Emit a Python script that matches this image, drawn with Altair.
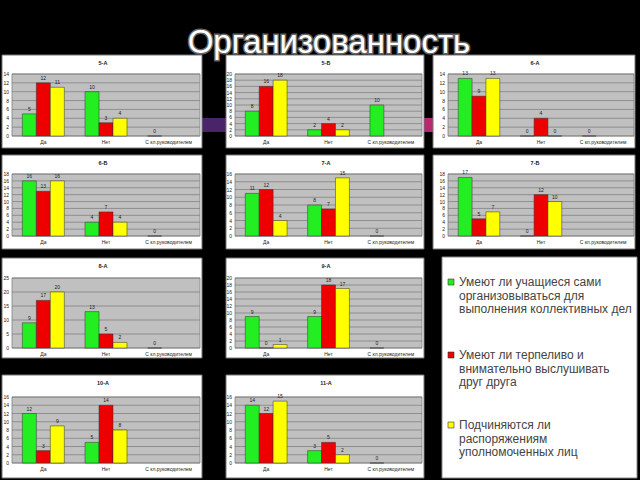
import altair as alt
import pandas as pd

# ---------------- data ----------------
classes = ["5-А", "5-Б", "6-А", "6-Б", "7-А", "7-Б", "8-А", "9-А", "10-А", "11-А"]
categories = ["Да", "Нет", "С кл.руководителем"]
series_keys = ["g", "r", "y"]
series_labels = [
    "Умеют ли учащиеся сами\nорганизовываться для\nвыполнения коллективных дел",
    "Умеют ли терпеливо и\nвнимательно выслушивать\nдруг друга",
    "Подчиняются ли\nраспоряжениям\nуполномоченных лиц",
]
# green has a value for the third category too (None = no bar / no label)
green_values = [[5, 10, 0], [8, 2, 10], [13, 0, 0], [16, 4, 0], [11, 8, 0],
                [17, 0, None], [9, 13, 0], [9, 9, 0], [12, 5, None], [14, 3, 0]]
red_values = [[12, 3], [16, 4], [9, 4], [13, 7], [12, 7],
              [5, 12], [17, 5], [0, 18], [3, 14], [12, 5]]
yellow_values = [[11, 4], [18, 2], [13, 0], [16, 4], [4, 15],
                 [7, 10], [20, 2], [1, 17], [9, 8], [15, 2]]
axis_max = [14, 20, 14, 18, 16, 18, 25, 20, 16, 16]
axis_step = [2, 2, 2, 2, 2, 2, 5, 2, 2, 2]

colors = ["#22ee22", "#ee0000", "#ffff00"]
title_text = "Организованность"

# ---------------- layout (pixels) ----------------
COLS = [(2, 202, 12, 200), (226, 424, 235, 422), (433, 635, 448, 634)]
ROWS = [(55, 148, 74, 136), (155, 249, 174, 236), (258, 358, 278, 348), (375, 478, 397, 463)]
SLOTS = [(0, 0), (0, 1), (0, 2), (1, 0), (1, 1), (1, 2), (2, 0), (2, 1), (3, 0), (3, 1)]
FONT = "Liberation Sans"
one = pd.DataFrame({"a": [0]})


def deco_rect(x0, x1, y0, y1, fill, stroke=None, sw=0):
    kw = dict(fill=fill)
    if stroke:
        kw.update(stroke=stroke, strokeWidth=sw)
    return alt.Chart(one).mark_rect(**kw).encode(
        x=alt.value(x0), x2=alt.value(x1), y=alt.value(y0), y2=alt.value(y1))


def panel(i):
    r, c = SLOTS[i]
    wx0, wx1, gx0, gx1 = COLS[c]
    wy0, wy1, gy0, gy1 = ROWS[r]
    recs = []
    for s, vals in enumerate([green_values[i], red_values[i], yellow_values[i]]):
        for k, v in enumerate(vals):
            if v is not None:
                recs.append({"cat": categories[k], "ser": series_keys[s], "v": v})
    df = pd.DataFrame(recs)
    ticks = pd.DataFrame({"t": list(range(0, axis_max[i] + 1, axis_step[i]))})
    cats = pd.DataFrame({"cat": categories})

    xs = alt.Scale(domain=categories, range=[gx0, gx1], paddingInner=0.33, paddingOuter=0.165)
    ys = alt.Scale(domain=[0, axis_max[i]], range=[gy1, gy0], nice=False, zero=True)
    offs = alt.Scale(domain=series_keys)
    cs = alt.Scale(domain=series_keys, range=colors)

    white = deco_rect(wx0, wx1, wy0, wy1, "white", "#777", 1)
    gray = deco_rect(gx0, gx1, gy0, gy1, "#c0c0c0", "#808080", 0.8)
    grid = alt.Chart(ticks).mark_rule(color="#7a7a7a", strokeWidth=0.7).encode(
        y=alt.Y("t:Q", scale=ys, axis=None),
        x=alt.value(gx0), x2=alt.value(gx1))
    ticklab = alt.Chart(ticks).mark_text(align="right", baseline="middle", fontSize=5,
                                         font=FONT, color="#222").encode(
        y=alt.Y("t:Q", scale=ys, axis=None), x=alt.value(gx0 - 3), text="t:Q")
    bars = alt.Chart(df).mark_bar(stroke="#333", strokeWidth=0.5).encode(
        x=alt.X("cat:N", scale=xs, axis=None),
        xOffset=alt.XOffset("ser:N", scale=offs),
        y=alt.Y("v:Q", scale=ys, axis=None),
        color=alt.Color("ser:N", scale=cs, legend=None))
    vlab = alt.Chart(df).mark_text(baseline="bottom", dy=-2, fontSize=5, font=FONT,
                                   color="#222").encode(
        x=alt.X("cat:N", scale=xs, axis=None),
        xOffset=alt.XOffset("ser:N", scale=offs),
        y=alt.Y("v:Q", scale=ys, axis=None),
        text="v:Q")
    catlab = alt.Chart(cats).mark_text(baseline="middle", fontSize=5, font=FONT,
                                       color="#222").encode(
        x=alt.X("cat:N", scale=xs, axis=None), y=alt.value(gy1 + 6), text="cat:N")
    ttl = alt.Chart(pd.DataFrame({"n": [classes[i]]})).mark_text(
        fontSize=5.5, fontWeight="bold", font=FONT, color="#222", baseline="middle").encode(
        x=alt.value((wx0 + wx1) / 2 + 1), y=alt.value(wy0 + 8), text="n:N")
    return alt.layer(white, gray, grid, ticklab, bars, vlab, catlab, ttl)


layers = []
# decorative coloured band of the slide background
layers.append(deco_rect(195, 228, 118, 132, "#4a2468"))
layers.append(deco_rect(422, 436, 118, 132, "#b52a70"))
for i in range(len(classes)):
    layers.append(panel(i))

# legend box
layers.append(deco_rect(442, 637, 257, 478, "white", "#888", 1))
leg_y = [282, 355, 425]
for s in range(3):
    layers.append(deco_rect(448, 454, leg_y[s] - 3, leg_y[s] + 3, colors[s], "#333", 0.6))
    layers.append(alt.Chart(pd.DataFrame({"t": [series_labels[s]]})).mark_text(
        align="left", baseline="middle", fontSize=12, lineHeight=13.5, font=FONT,
        color="#444", lineBreak="\n").encode(
        x=alt.value(459), y=alt.value(leg_y[s]), text="t:N"))

# slide title with glow
tdf = pd.DataFrame({"t": [title_text]})
layers.append(alt.Chart(tdf).mark_text(fontSize=33, font=FONT, baseline="alphabetic",
                                       stroke="#666", strokeWidth=3, fill="#666").encode(
    x=alt.value(329), y=alt.value(53), text="t:N"))
layers.append(alt.Chart(tdf).mark_text(fontSize=33, font=FONT, baseline="alphabetic",
                                       fill="white").encode(
    x=alt.value(329), y=alt.value(53), text="t:N"))

chart = alt.layer(*layers).resolve_scale(
    x="independent", y="independent", xOffset="independent"
).properties(
    width=640, height=480, padding=0, autosize="none", background="black"
).configure_view(stroke=None)

chart.save("out.html", embed_options={"renderer": "svg", "actions": False})
